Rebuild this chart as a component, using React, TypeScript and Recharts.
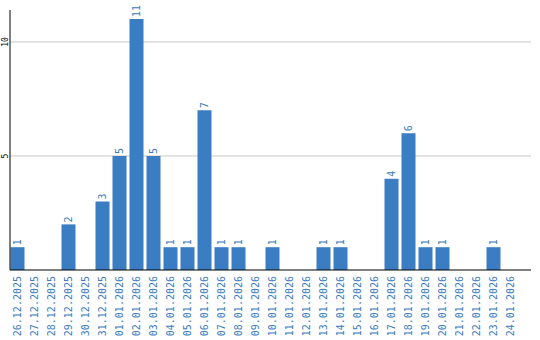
import React from "react";
import { BarChart, Bar, XAxis, YAxis, CartesianGrid, LabelList } from "recharts";

const dates = [
  "26.12.2025", "27.12.2025", "28.12.2025", "29.12.2025", "30.12.2025", "31.12.2025",
  "01.01.2026", "02.01.2026", "03.01.2026", "04.01.2026", "05.01.2026", "06.01.2026",
  "07.01.2026", "08.01.2026", "09.01.2026", "10.01.2026", "11.01.2026", "12.01.2026",
  "13.01.2026", "14.01.2026", "15.01.2026", "16.01.2026", "17.01.2026", "18.01.2026",
  "19.01.2026", "20.01.2026", "21.01.2026", "22.01.2026", "23.01.2026", "24.01.2026",
];
const counts = [1, 0, 0, 2, 0, 3, 5, 11, 5, 1, 1, 7, 1, 1, 0, 1, 0, 0, 1, 1, 0, 0, 4, 6, 1, 1, 0, 0, 1, 0];
const yTicks = [0, 5, 10];
const gridValues = [5, 10];

const data = dates.map((d, i) => ({ date: d, value: counts[i] }));

const BLUE = "#3a7dc3";
const FONT = "'DejaVu Sans Mono', monospace";

const XTick = (props: any) => {
  const { x, payload } = props;
  const ty = 276;
  return (
    <text
      x={x}
      y={ty}
      transform={`rotate(-90, ${x}, ${ty})`}
      textAnchor="end"
      dominantBaseline="central"
      fontFamily={FONT}
      fontSize={10}
      fill="#3a7ac0"
    >
      {payload.value}
    </text>
  );
};

const YTick = (props: any) => {
  const { y, payload } = props;
  if (payload.value === 0) return null;
  const x = 5.5;
  return (
    <text
      x={x}
      y={y}
      transform={`rotate(-90, ${x}, ${y})`}
      textAnchor="middle"
      dominantBaseline="central"
      fontFamily={FONT}
      fontSize={8}
      fill="#000"
    >
      {payload.value}
    </text>
  );
};

const ValueLabel = (props: any) => {
  const { x, y, width, value } = props;
  if (!value) return null;
  const cx = x + width / 2;
  const ly = y - 2;
  return (
    <text
      x={cx}
      y={ly}
      transform={`rotate(-90, ${cx}, ${ly})`}
      textAnchor="start"
      dominantBaseline="central"
      fontFamily={FONT}
      fontSize={10}
      fill="#3a7ab8"
    >
      {value}
    </text>
  );
};

export default function App() {
  return (
    <div style={{ position: "absolute", left: 0, top: 0, width: 540, height: 340, background: "#fff" }}>
      <BarChart
        width={540}
        height={340}
        data={data}
        margin={{ top: 10, right: 9, left: 0, bottom: 0 }}
        barSize={14}
      >
        <CartesianGrid vertical={false} stroke="#c8c8c8" horizontalValues={gridValues} />
        <XAxis
          dataKey="date"
          height={70}
          interval={0}
          padding={{ left: -1.5, right: 12.5 }}
          tickLine={false}
          axisLine={{ stroke: "#000" }}
          tick={<XTick />}
        />
        <YAxis
          width={10}
          domain={[0, 11.4]}
          ticks={yTicks}
          interval={0}
          tickLine={false}
          axisLine={{ stroke: "#000" }}
          tick={<YTick />}
        />
        <Bar dataKey="value" fill={BLUE} isAnimationActive={false}>
          <LabelList dataKey="value" content={<ValueLabel />} />
        </Bar>
      </BarChart>
    </div>
  );
}
